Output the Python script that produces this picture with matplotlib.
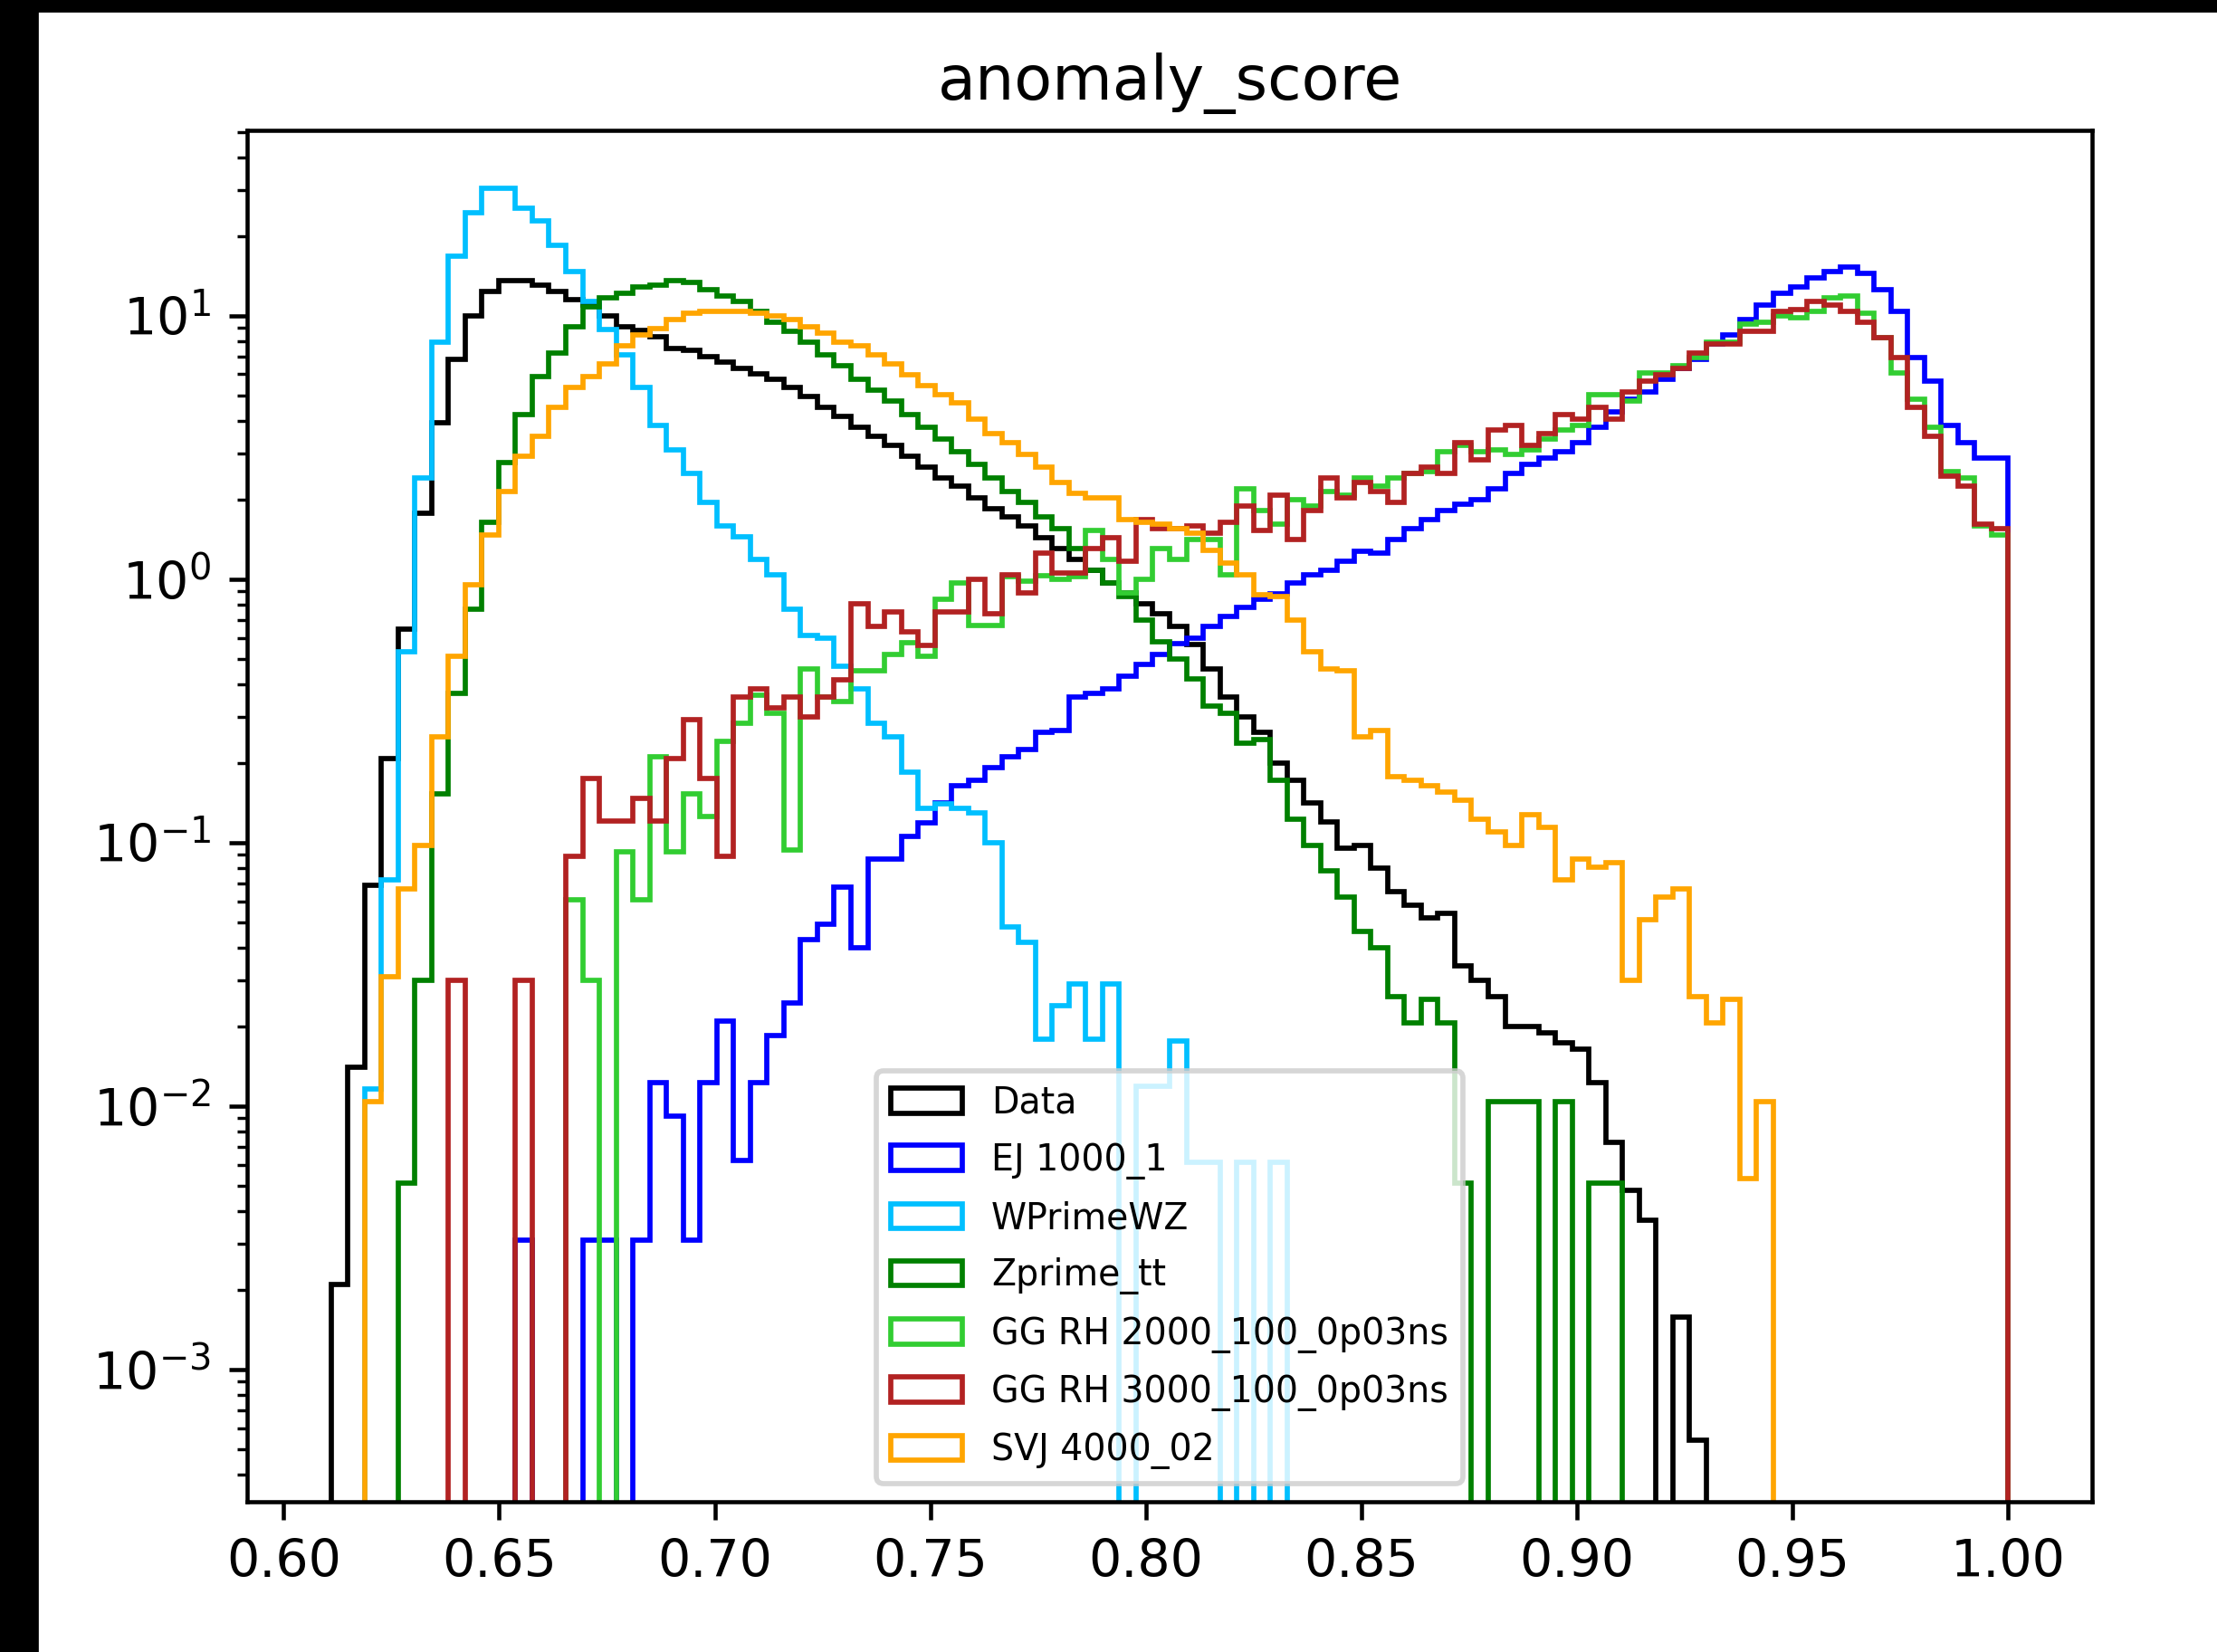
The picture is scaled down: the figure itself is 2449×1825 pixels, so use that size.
import numpy as np
import matplotlib
matplotlib.use("Agg")
import matplotlib.pyplot as plt
from matplotlib.patches import Rectangle

# histogram bins (100 bins between the min and max score)
score_min = 0.611
score_max = 1.0
n_bins = 100

# density per bin
data_vals = [0.0021, 0.0141, 0.069, 0.208, 0.645, 1.78, 3.92, 6.84, 10.0, 12.4,
             13.6, 13.6, 13.1, 12.4, 11.5, 11.0, 10.0, 9.1, 8.8, 8.3,
             7.5, 7.4, 7.0, 6.7, 6.3, 6.0, 5.75, 5.33, 4.94, 4.48,
             4.15, 3.77, 3.49, 3.23, 2.94, 2.67, 2.43, 2.25, 2.04, 1.85,
             1.72, 1.59, 1.44, 1.31, 1.19, 1.08, 0.97, 0.89, 0.81, 0.74,
             0.66, 0.565, 0.457, 0.356, 0.30, 0.262, 0.20, 0.172, 0.142, 0.12,
             0.095, 0.098, 0.08, 0.065, 0.058, 0.052, 0.054, 0.034, 0.030, 0.026,
             0.020, 0.020, 0.019, 0.0174, 0.0165, 0.0123, 0.0073, 0.0048, 0.0037, 0,
             0.00158, 0.00054, 0, 0, 0, 0, 0, 0, 0, 0,
             0, 0, 0, 0, 0, 0, 0, 0, 0, 0]

ej_vals = [0, 0, 0, 0, 0, 0, 0, 0, 0, 0,
           0, 0.0031, 0, 0, 0, 0.0031, 0.0031, 0, 0.0031, 0.0123,
           0.0092, 0.0031, 0.0123, 0.021, 0.0062, 0.0123, 0.0185, 0.0246, 0.043, 0.049,
           0.068, 0.040, 0.087, 0.087, 0.106, 0.119, 0.142, 0.165, 0.172, 0.193,
           0.212, 0.225, 0.262, 0.267, 0.356, 0.37, 0.385, 0.43, 0.474, 0.52,
           0.57, 0.60, 0.66, 0.72, 0.78, 0.84, 0.88, 0.97, 1.04, 1.08,
           1.17, 1.28, 1.26, 1.42, 1.56, 1.68, 1.82, 1.93, 2.0, 2.2,
           2.52, 2.72, 2.88, 3.05, 3.3, 3.77, 4.31, 4.84, 5.13, 5.75,
           6.33, 6.84, 7.82, 8.45, 9.66, 11.0, 12.2, 12.9, 13.9, 14.7,
           15.3, 14.5, 12.6, 10.4, 6.97, 5.64, 3.85, 3.3, 2.88, 2.88]

wprime_vals = [0, 0, 0.0116, 0.072, 0.53, 2.43, 7.97, 16.8, 24.7, 30.5,
               30.5, 25.7, 22.9, 18.5, 14.7, 11.3, 8.9, 7.1, 5.33, 3.85,
               3.11, 2.52, 1.96, 1.59, 1.45, 1.19, 1.04, 0.77, 0.61, 0.60,
               0.466, 0.385, 0.283, 0.252, 0.185, 0.135, 0.14, 0.135, 0.13, 0.10,
               0.048, 0.042, 0.018, 0.024, 0.029, 0.018, 0.029, 0, 0.0119, 0.0119,
               0.0177, 0.0061, 0.0061, 0, 0.0061, 0, 0.0061, 0, 0, 0,
               0, 0, 0, 0, 0, 0, 0, 0, 0, 0,
               0, 0, 0, 0, 0, 0, 0, 0, 0, 0,
               0, 0, 0, 0, 0, 0, 0, 0, 0, 0,
               0, 0, 0, 0, 0, 0, 0, 0, 0, 0]

zprime_vals = [0, 0, 0, 0, 0.0051, 0.030, 0.153, 0.37, 0.77, 1.65,
               2.77, 4.23, 5.86, 7.24, 9.1, 10.8, 11.7, 12.2, 12.9, 13.1,
               13.6, 13.4, 12.6, 11.9, 11.3, 10.4, 9.47, 8.77, 7.97, 7.1,
               6.45, 5.75, 5.22, 4.75, 4.23, 3.77, 3.42, 3.05, 2.72, 2.43,
               2.16, 1.96, 1.72, 1.56, 1.31, 1.08, 0.97, 0.86, 0.70, 0.58,
               0.50, 0.42, 0.33, 0.31, 0.238, 0.247, 0.172, 0.123, 0.098, 0.078,
               0.062, 0.046, 0.040, 0.026, 0.0207, 0.0255, 0.0207, 0.0051, 0, 0.0104,
               0.0104, 0.0104, 0, 0.0104, 0, 0.0051, 0.0051, 0, 0, 0,
               0, 0, 0, 0, 0, 0, 0, 0, 0, 0,
               0, 0, 0, 0, 0, 0, 0, 0, 0, 0]

gg2000_vals = [0, 0, 0, 0, 0, 0, 0, 0, 0, 0,
               0, 0, 0, 0, 0.0605, 0.030, 0, 0.092, 0.0605, 0.212,
               0.092, 0.153, 0.126, 0.243, 0.283, 0.363, 0.311, 0.094, 0.457, 0.356,
               0.343, 0.448, 0.448, 0.52, 0.575, 0.51, 0.84, 0.97, 0.67, 0.67,
               1.02, 0.98, 1.03, 1.0, 1.02, 1.53, 1.19, 0.89, 1.0, 1.31,
               1.19, 1.42, 1.42, 1.04, 2.2, 1.82, 1.62, 2.0, 1.89, 2.16,
               2.08, 2.43, 2.25, 2.43, 2.52, 2.57, 3.05, 3.23, 3.05, 3.11,
               2.99, 3.11, 3.42, 3.70, 3.85, 5.02, 5.02, 4.74, 6.09, 6.09,
               6.45, 6.97, 7.97, 7.97, 9.29, 9.47, 10.0, 9.84, 10.4, 11.7,
               11.9, 10.2, 8.28, 6.09, 4.84, 3.77, 2.57, 2.43, 1.59, 1.47]

gg3000_vals = [0, 0, 0, 0, 0, 0, 0, 0.030, 0, 0,
               0, 0.030, 0, 0, 0.089, 0.175, 0.121, 0.121, 0.147, 0.121,
               0.208, 0.294, 0.175, 0.089, 0.356, 0.385, 0.324, 0.356, 0.30, 0.356,
               0.415, 0.81, 0.66, 0.75, 0.63, 0.56, 0.75, 0.75, 1.0, 0.74,
               1.04, 0.89, 1.26, 1.06, 1.06, 1.31, 1.44, 1.17, 1.68, 1.56,
               1.56, 1.59, 1.50, 1.65, 1.89, 1.53, 2.08, 1.42, 1.82, 2.43,
               2.04, 2.33, 2.16, 1.96, 2.52, 2.67, 2.52, 3.30, 2.83, 3.70,
               3.85, 3.23, 3.56, 4.23, 4.07, 4.48, 4.07, 5.13, 5.64, 5.97,
               6.33, 7.24, 7.82, 7.82, 8.77, 8.77, 10.4, 10.6, 11.3, 11.0,
               10.4, 9.47, 8.28, 6.97, 4.48, 3.49, 2.47, 2.25, 1.62, 1.56]

svj_vals = [0, 0, 0.0104, 0.031, 0.067, 0.098, 0.252, 0.51, 0.95, 1.47,
            2.16, 2.94, 3.49, 4.48, 5.33, 5.86, 6.58, 7.67, 8.45, 8.94,
            9.66, 10.2, 10.4, 10.4, 10.4, 10.2, 10.0, 9.66, 9.12, 8.61,
            7.97, 7.67, 7.1, 6.58, 5.97, 5.43, 5.02, 4.66, 4.07, 3.56,
            3.3, 2.99, 2.67, 2.33, 2.12, 2.04, 2.04, 1.68, 1.65, 1.62,
            1.56, 1.50, 1.29, 1.15, 1.04, 0.877, 0.86, 0.70, 0.53, 0.457,
            0.448, 0.252, 0.267, 0.178, 0.172, 0.165, 0.156, 0.145, 0.123, 0.11,
            0.098, 0.128, 0.114, 0.072, 0.087, 0.081, 0.084, 0.030, 0.051, 0.062,
            0.067, 0.026, 0.0207, 0.0255, 0.0053, 0.0104, 0, 0, 0, 0,
            0, 0, 0, 0, 0, 0, 0, 0, 0, 0]

labels = ["Data", "EJ 1000_1", "WPrimeWZ", "Zprime_tt",
          "GG RH 2000_100_0p03ns", "GG RH 3000_100_0p03ns", "SVJ 4000_02"]
series = [data_vals, ej_vals, wprime_vals, zprime_vals,
          gg2000_vals, gg3000_vals, svj_vals]
colors = ["black", "blue", "deepskyblue", "green", "limegreen", "firebrick", "orange"]

edges = np.linspace(score_min, score_max, n_bins + 1)
centers = 0.5 * (edges[:-1] + edges[1:])

dpi = 410
fig = plt.figure(figsize=(2449 / dpi, 1825 / dpi), dpi=dpi)
ax = fig.add_axes([273 / 2449, 1 - 1659 / 1825, 2038 / 2449, 1515 / 1825])

for vals, lab, col in zip(series, labels, colors):
    ax.hist(centers, bins=edges, weights=vals, histtype="step", color=col, label=lab)

ax.set_yscale("log")
ax.set_xlim(0.59155, 1.01945)
ax.set_ylim(3.15e-4, 50.6)
ax.set_title("anomaly_score")
ax.legend(loc="lower center", fontsize="x-small", labelspacing=0.59)

# dark frame of the screenshot
fig.add_artist(Rectangle((0, 0), 40 / 2449, 1, transform=fig.transFigure,
                         color="black", zorder=10))
fig.add_artist(Rectangle((0, 1 - 11 / 1825), 1, 11 / 1825, transform=fig.transFigure,
                         color="black", zorder=10))

fig.savefig("out.png", dpi=dpi)
